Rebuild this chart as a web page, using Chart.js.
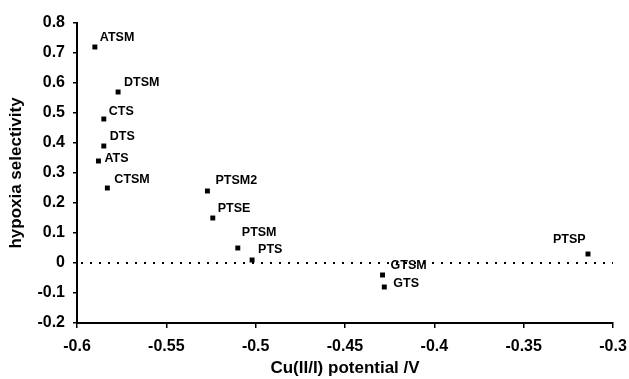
<!DOCTYPE html>
<html lang="en">
<head>
<meta charset="UTF-8" />
<title>Hypoxia selectivity vs Cu(II/I) potential</title>
<script src="https://cdn.jsdelivr.net/npm/chart.js"></script>
<style>
  html, body { margin: 0; padding: 0; background: #fff; }
  #wrap { width: 629px; height: 379px; }
</style>
</head>
<body>
<div id="wrap"><canvas id="chart" width="629" height="379"></canvas></div>
<script>
  // data
  const names = ['ATSM', 'DTSM', 'CTS', 'DTS', 'ATS', 'CTSM', 'PTSM2', 'PTSE', 'PTSM', 'PTS', 'GTSM', 'GTS', 'PTSP'];
  const potentials = [-0.590, -0.577, -0.585, -0.585, -0.588, -0.583, -0.527, -0.524, -0.510, -0.502, -0.429, -0.428, -0.314];
  const selectivity = [0.72, 0.57, 0.48, 0.39, 0.34, 0.25, 0.24, 0.15, 0.05, 0.01, -0.04, -0.08, 0.03];

  // where each name sits relative to its point (px)
  const labelOffsets = [
    [5, -9], [6, -9], [5, -7], [6, -9], [6, -2], [7, -8], [8, -10],
    [5, -9], [4, -15], [6, -10], [8, -9], [9, -3], [-35, -14]
  ];

  const FONT = "'Liberation Sans', Arial, sans-serif";

  const pointLabels = {
    id: 'pointLabels',
    afterDatasetsDraw(chart) {
      const ctx = chart.ctx;
      const meta = chart.getDatasetMeta(0);
      ctx.save();
      ctx.font = 'bold 12.5px ' + FONT;
      ctx.fillStyle = '#000';
      ctx.textAlign = 'left';
      ctx.textBaseline = 'middle';
      meta.data.forEach((pt, i) => {
        ctx.fillText(names[i], pt.x + labelOffsets[i][0], pt.y + labelOffsets[i][1]);
      });
      ctx.restore();
    }
  };

  // dotted line at zero selectivity
  const zeroLine = {
    id: 'zeroLine',
    beforeDatasetsDraw(chart) {
      const { ctx, chartArea, scales } = chart;
      const y = scales.y.getPixelForValue(0);
      ctx.save();
      ctx.strokeStyle = '#000';
      ctx.lineWidth = 2;
      ctx.setLineDash([2, 7]);
      ctx.beginPath();
      ctx.moveTo(chartArea.left + 4, y);
      ctx.lineTo(chartArea.right, y);
      ctx.stroke();
      ctx.restore();
    }
  };

  // -0.6, -0.55 ... without trailing zeros
  const fmt = v => String(Math.round(v * 100) / 100);

  new Chart(document.getElementById('chart'), {
    type: 'scatter',
    data: {
      datasets: [{
        data: potentials.map((x, i) => ({ x: x, y: selectivity[i] })),
        pointStyle: 'rect',
        pointRadius: 3.5,
        backgroundColor: '#000',
        borderColor: '#000',
        borderWidth: 0
      }]
    },
    options: {
      responsive: false,
      animation: false,
      layout: { padding: { top: 23, right: 16, bottom: 0, left: 0 } },
      plugins: { legend: { display: false }, tooltip: { enabled: false } },
      scales: {
        x: {
          type: 'linear',
          min: -0.6, max: -0.3,
          afterFit: s => { s.height = 56; s.paddingRight = 0; },
          ticks: { stepSize: 0.05, callback: fmt, color: '#000', font: { family: FONT, size: 16, weight: 'bold' }, padding: 9 },
          grid: { drawOnChartArea: false, drawTicks: true, tickLength: 5, color: '#000', lineWidth: 1.5 },
          border: { display: true, color: '#000', width: 2 },
          title: { display: true, text: 'Cu(II/I) potential /V', color: '#000', font: { family: FONT, size: 17, weight: 'bold' }, padding: 0 }
        },
        y: {
          min: -0.2, max: 0.8,
          afterFit: s => { s.width = 77; },
          ticks: { stepSize: 0.1, callback: fmt, color: '#000', font: { family: FONT, size: 16, weight: 'bold' }, padding: 8 },
          grid: { drawOnChartArea: false, drawTicks: true, tickLength: 4, color: '#000', lineWidth: 1.5 },
          border: { display: true, color: '#000', width: 2 },
          title: { display: true, text: 'hypoxia selectivity', color: '#000', font: { family: FONT, size: 17, weight: 'bold' }, padding: { top: 6 } }
        }
      }
    },
    plugins: [zeroLine, pointLabels]
  });
</script>
</body>
</html>
